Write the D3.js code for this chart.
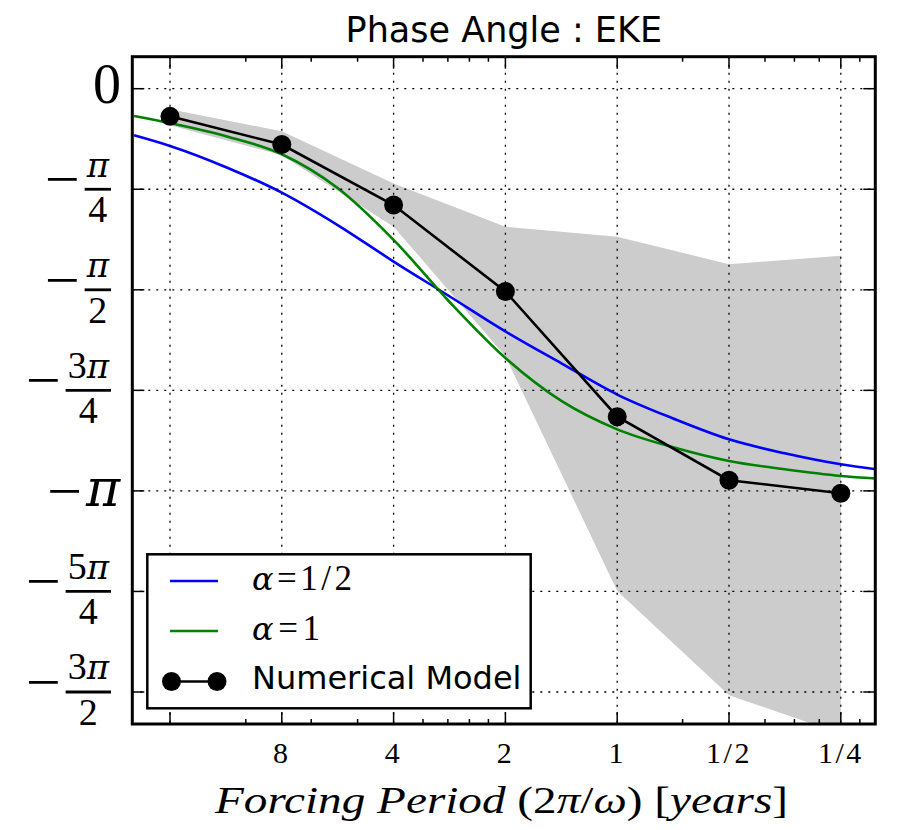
<!DOCTYPE html>
<html>
<head>
<meta charset="utf-8">
<script src="https://cdn.jsdelivr.net/npm/d3@7"></script>
<style>
  body { margin: 0; background: #fff; }
  .math { font-family: "Liberation Serif", "DejaVu Serif", serif; }
  .sans { font-family: "DejaVu Sans", sans-serif; }
  .greek { font-family: "DejaVu Serif", serif; }
</style>
</head>
<body>
<svg id="chart" width="900" height="830"></svg>
<script>
// Forcing periods (years) of the numerical experiments
const periods = [16, 8, 4, 2, 1, 0.5, 0.25];
// EKE phase lag of the numerical model (radians)
const modelPhase = [-0.216, -0.436, -0.909, -1.584, -2.562, -3.058, -3.160];
// Spread of the numerical model
const bandUpper = [-0.161, -0.333, -0.740, -1.078, -1.156, -1.371, -1.304];
const bandLower = [-0.286, -0.519, -1.078, -2.090, -3.923, -4.738, -5.037];

// Theoretical phase curves
const theoryPeriods = [20, 16, 11.3, 8, 5.66, 4, 2.83, 2, 1.41, 1, 0.707, 0.5, 0.354, 0.25, 0.2];
const alphaHalf = [-0.364, -0.447, -0.613, -0.812, -1.065, -1.350, -1.621, -1.896, -2.147, -2.389, -2.576, -2.739, -2.848, -2.934, -2.973];
const alphaOne  = [-0.213, -0.268, -0.371, -0.512, -0.776, -1.181, -1.664, -2.103, -2.441, -2.661, -2.801, -2.908, -2.973, -3.025, -3.045];

// Axis ticks
const xTickPeriods = [16, 8, 4, 2, 1, 0.5, 0.25];
const xTickLabels = ["", "8", "4", "2", "1", "1/2", "1/4"];
const yTickQuarters = [0, 1, 2, 3, 4, 5, 6];          // multiples of -π/4
const yTickLabels = ["0", "−π/4", "−π/2", "−3π/4", "−π", "−5π/4", "−3π/2"];

const seriesNames = ["α=1/2", "α=1", "Numerical Model"];
const seriesColors = ["#0000ff", "#008000", "#000000"];

const svg = d3.select("#chart");
const L = 132.3, R = 875.3, T = 56.7, B = 724;

// Horizontal axis is log(ω/π) with ω/π = 2 / period
const xs = d3.scaleLog().domain([0.1, 10]).range([134, 876.8]);
const xP = p => xs(2 / p);
const ys = d3.scaleLinear().domain([0.25, -1.5 * Math.PI - 0.25]).range([T, B]);

svg.append("clipPath").attr("id", "plotClip")
  .append("rect").attr("x", L).attr("y", T).attr("width", R - L).attr("height", B - T);

const plot = svg.append("g").attr("clip-path", "url(#plotClip)");

// Shaded spread
const band = periods.map((p, i) => ({ p, lo: bandLower[i], hi: bandUpper[i] }));
plot.append("path").datum(band)
  .attr("fill", "#cccccc")
  .attr("d", d3.area().x(d => xP(d.p)).y0(d => ys(d.lo)).y1(d => ys(d.hi)));

// Grid
const grid = svg.append("g").attr("stroke", "#000").attr("stroke-width", 1.3).attr("stroke-dasharray", "2,6");
xTickPeriods.forEach(p => {
  grid.append("line").attr("x1", xP(p)).attr("x2", xP(p)).attr("y1", T).attr("y2", B);
});
yTickQuarters.forEach(q => {
  const v = ys(-q * Math.PI / 4);
  grid.append("line").attr("x1", L).attr("x2", R).attr("y1", v).attr("y2", v);
});

// Theory curves
const curveLine = d3.line().x(d => xP(d[0])).y(d => ys(d[1])).curve(d3.curveMonotoneX);
[alphaHalf, alphaOne].forEach((vals, k) => {
  plot.append("path").datum(theoryPeriods.map((p, i) => [p, vals[i]]))
    .attr("fill", "none").attr("stroke", seriesColors[k]).attr("stroke-width", 2.6)
    .attr("d", curveLine);
});

// Numerical model
const modelPts = periods.map((p, i) => [p, modelPhase[i]]);
plot.append("path").datum(modelPts)
  .attr("fill", "none").attr("stroke", "#000").attr("stroke-width", 2.6)
  .attr("d", d3.line().x(d => xP(d[0])).y(d => ys(d[1])));
plot.selectAll("circle.pt").data(modelPts).enter().append("circle")
  .attr("class", "pt").attr("cx", d => xP(d[0])).attr("cy", d => ys(d[1])).attr("r", 9.5).attr("fill", "#000");

// Ticks (inward, on all four sides)
const ticks = svg.append("g").attr("stroke", "#000").attr("stroke-width", 1.5);
const majorU = xTickPeriods.map(p => 2 / p);
const minorU = xs.ticks().filter(u => u > 0.1 + 1e-9 && u < 10 - 1e-9 &&
  !majorU.some(m => Math.abs(Math.log(m / u)) < 1e-6));
majorU.forEach(u => {
  const x = xs(u);
  ticks.append("line").attr("x1", x).attr("x2", x).attr("y1", B).attr("y2", B - 12);
  ticks.append("line").attr("x1", x).attr("x2", x).attr("y1", T).attr("y2", T + 12);
});
minorU.forEach(u => {
  const x = xs(u);
  ticks.append("line").attr("x1", x).attr("x2", x).attr("y1", B).attr("y2", B - 5);
  ticks.append("line").attr("x1", x).attr("x2", x).attr("y1", T).attr("y2", T + 5);
});
yTickQuarters.forEach(q => {
  const v = ys(-q * Math.PI / 4);
  ticks.append("line").attr("x1", L).attr("x2", L + 12).attr("y1", v).attr("y2", v);
  ticks.append("line").attr("x1", R).attr("x2", R - 12).attr("y1", v).attr("y2", v);
});

// X tick labels
xTickPeriods.forEach((p, i) => {
  svg.append("text").attr("class", "math")
    .attr("x", xP(p)).attr("y", 763).attr("text-anchor", "middle")
    .attr("font-size", 30).attr("letter-spacing", 2.5).text(xTickLabels[i]);
});

// Y tick labels, typeset as fractions of π
function piText(sel, s, piSize) {
  // digits upright, π as a math italic
  for (const ch of s) {
    const t = sel.append("tspan").text(ch);
    if (ch === "π") t.attr("class", "greek").attr("font-style", "italic").attr("font-size", piSize);
  }
}
yTickLabels.forEach((lab, i) => {
  const ty = ys(-yTickQuarters[i] * Math.PI / 4);
  const g = svg.append("g").attr("class", "math").attr("fill", "#000");
  if (!lab.includes("/")) {
    if (lab.length === 1) {
      g.append("text").attr("x", 121).attr("y", ty + 14.5).attr("text-anchor", "end")
        .attr("font-size", 56).text(lab);
    } else {
      g.append("text").attr("x", 86).attr("y", ty + 15).attr("text-anchor", "start")
        .attr("class", "greek").attr("font-style", "italic")
        .attr("font-size", 52).text(lab.slice(1));
      g.append("text").attr("x", 82).attr("y", ty + 19).attr("text-anchor", "end")
        .attr("font-size", 56).attr("textLength", 35).attr("lengthAdjust", "spacingAndGlyphs")
        .text(lab[0]);
    }
  } else {
    const [numer, den] = lab.slice(1).split("/");
    const numT = g.append("text").attr("font-size", 38).attr("text-anchor", "middle");
    piText(numT, numer, 34);
    const w = numT.node().getComputedTextLength() + 4;
    const barR = 111, barL = barR - w, cx = (barL + barR) / 2;
    numT.attr("x", cx).attr("y", ty - 12.5);
    g.append("text").attr("font-size", 38).attr("text-anchor", "middle")
      .attr("x", cx).attr("y", ty + 33).text(den);
    g.append("line").attr("x1", barL).attr("x2", barR).attr("y1", ty).attr("y2", ty)
      .attr("stroke", "#000").attr("stroke-width", 2.8);
    g.append("text").attr("font-size", 56).attr("text-anchor", "end")
      .attr("textLength", 35).attr("lengthAdjust", "spacingAndGlyphs")
      .attr("x", barL - 5).attr("y", ty - 6 + 15).text(lab[0]);
  }
});

// Frame
svg.append("rect").attr("x", L).attr("y", T).attr("width", R - L).attr("height", B - T)
  .attr("fill", "none").attr("stroke", "#000").attr("stroke-width", 3);

// Title
svg.append("text").attr("class", "sans").attr("x", (L + R) / 2).attr("y", 41.7)
  .attr("text-anchor", "middle").attr("font-size", 35).text("Phase Angle : EKE");

// X axis label
const xl = svg.append("text").attr("class", "math").attr("x", 215).attr("y", 813)
  .attr("font-size", 38).attr("textLength", 573).attr("lengthAdjust", "spacingAndGlyphs");
[["Forcing Period ", true], ["(2", false], ["π", true], ["/", false], ["ω", true],
 [") [", false], ["years", true], ["]", false]].forEach(([s, it]) => {
  xl.append("tspan").attr("font-style", it ? "italic" : "normal").text(s);
});

// Legend
const lg = svg.append("g");
lg.append("rect").attr("x", 147.3).attr("y", 554.3).attr("width", 383.4).attr("height", 154)
  .attr("fill", "#fff").attr("stroke", "#000").attr("stroke-width", 2.5);
const rowY = [581, 631, 681.5];
const mathWidths = [100, 68];
seriesNames.forEach((name, k) => {
  lg.append("line").attr("x1", 170).attr("x2", 218).attr("y1", rowY[k]).attr("y2", rowY[k])
    .attr("stroke", seriesColors[k]).attr("stroke-width", 2.6);
  if (k === 2) {
    [171.5, 217].forEach(cx => lg.append("circle").attr("cx", cx).attr("cy", rowY[k]).attr("r", 9.5).attr("fill", "#000"));
    lg.append("text").attr("class", "sans").attr("x", 252).attr("y", rowY[k] + 7.5)
      .attr("font-size", 32).text(name);
  } else {
    const t = lg.append("text").attr("class", "math").attr("x", 252).attr("y", rowY[k] + 9)
      .attr("font-size", 35).attr("textLength", mathWidths[k]).attr("lengthAdjust", "spacing");
    t.append("tspan").attr("class", "greek").attr("font-style", "italic").attr("font-size", 32).text(name[0]);
    t.append("tspan").text("=" + name.slice(2));
  }
});
</script>
</body>
</html>
